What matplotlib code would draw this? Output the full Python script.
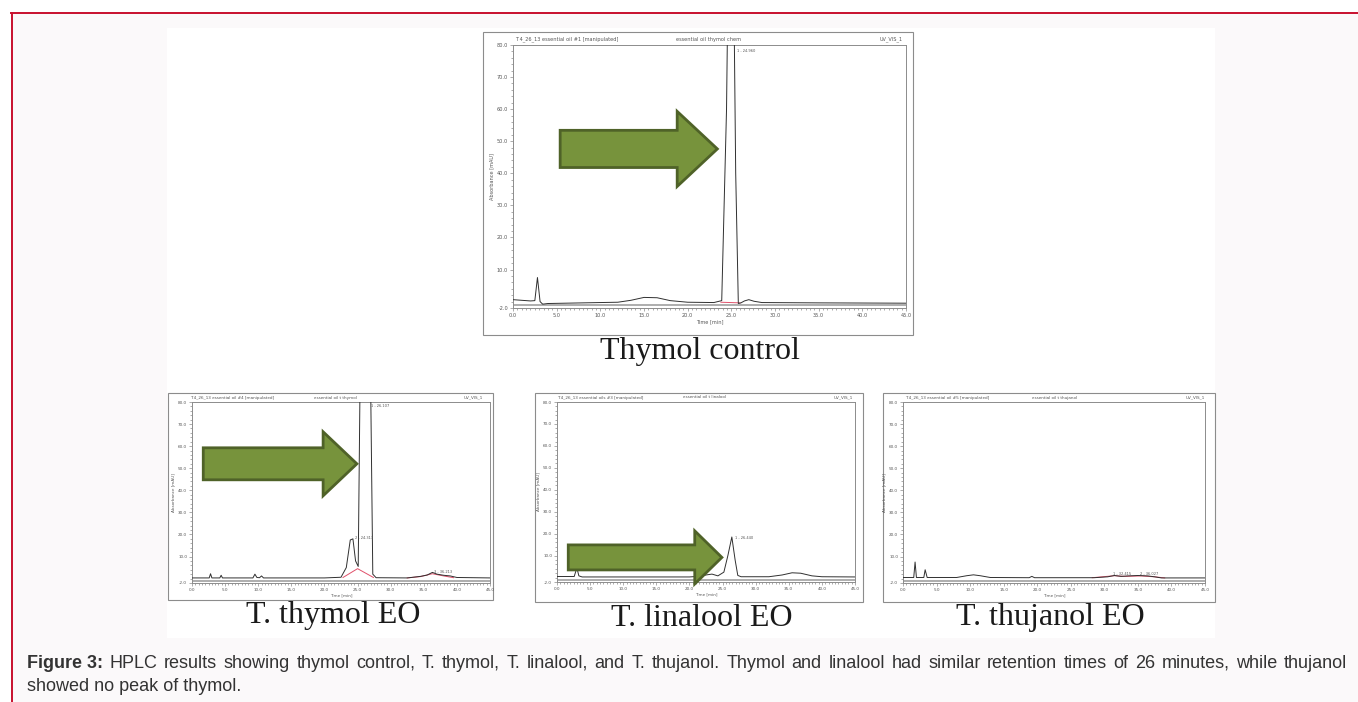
import matplotlib
matplotlib.use("Agg")
import matplotlib.pyplot as plt
from matplotlib.patches import Rectangle, FancyArrow
from matplotlib.lines import Line2D
from matplotlib.ticker import MultipleLocator, FixedLocator

W, H = 1358, 702

# retention time (min) vs absorbance (mAU)
ctrl_t = [0.0, 1.0, 2.0, 2.5, 2.8, 3.1, 3.4, 4.0, 8.0, 12.0, 13.5, 15.0, 16.5, 18.0, 20.0, 23.0, 23.9,
          24.45, 24.75, 25.0, 25.2, 25.5, 25.8, 26.1, 26.5, 27.0, 27.6, 28.5, 35.0, 45.0]
ctrl_y = [0.6, 0.4, 0.2, 0.3, 7.5, 0.0, -0.8, -0.6, -0.4, -0.2, 0.4, 1.3, 1.2, 0.3, -0.2, -0.3, 0.3,
          60.0, 130.0, 150.0, 120.0, 40.0, -0.6, -0.4, 0.2, 0.6, 0.1, -0.3, -0.4, -0.5]
ctrl_red_t = [23.8, 26.0]
ctrl_red_y = [-0.2, -0.4]

thy_t = [0.0, 2.6, 2.8, 3.0, 4.2, 4.4, 4.6, 9.2, 9.5, 9.8, 10.2, 10.5, 10.8, 20.0, 22.5, 23.3, 23.9,
         24.3, 24.7, 25.1, 25.4, 26.0, 26.6, 26.95, 27.3, 27.8, 32.5, 34.5, 35.5, 36.3, 37.0, 38.0,
         39.0, 40.0, 45.0]
thy_y = [0.3, 0.3, 2.2, 0.3, 0.3, 1.5, 0.3, 0.3, 2.0, 0.5, 0.4, 1.2, 0.3, 0.3, 0.6, 5.0, 17.5,
         18.0, 8.0, 5.5, 96.0, 99.0, 98.0, 95.0, 2.0, 0.4, 0.3, 1.0, 1.6, 2.8, 2.0, 1.5,
         1.2, 0.5, 0.3]
thy_red_t = [22.8, 25.0, 27.4, None, 32.5, 34.5, 36.3, 38.0, 39.5]
thy_red_y = [0.5, 4.5, 0.5, None, 0.3, 0.9, 2.2, 1.2, 0.4]

lin_t = [0.0, 2.6, 3.0, 3.3, 3.8, 20.0, 21.5, 22.5, 23.4, 24.3, 25.2, 25.8, 26.4, 26.9, 27.3, 27.8,
         32.0, 34.0, 35.5, 36.8, 38.5, 40.0, 45.0]
lin_y = [0.5, 0.5, 4.5, 0.8, 0.3, 0.3, 0.6, 1.2, 1.6, 0.8, 2.5, 10.0, 18.5, 8.0, 1.0, 0.4,
         0.4, 1.2, 2.2, 2.0, 0.8, 0.4, 0.3]

thj_t = [0.0, 1.6, 1.8, 2.0, 3.1, 3.3, 3.6, 8.0, 9.5, 10.5, 11.5, 13.0, 18.8, 19.2, 19.6, 28.5,
         30.5, 31.5, 32.5, 33.5, 35.0, 36.5, 37.5, 38.5, 45.0]
thj_y = [0.5, 0.5, 7.5, 0.5, 0.5, 4.0, 0.5, 0.5, 1.3, 1.7, 1.3, 0.5, 0.4, 1.0, 0.4, 0.4,
         0.8, 1.4, 1.0, 1.2, 1.4, 1.2, 0.8, 0.3, 0.3]
thj_red_t = [28.2, 31.5, 33.0, 35.5, 37.5, 39.0]
thj_red_y = [0.4, 1.3, 1.0, 1.2, 0.8, 0.3]

blank_t = [0.0, 45.0]
blank_y = [-1.1, -1.1]

x_ticks = [0, 5, 10, 15, 20, 25, 30, 35, 40, 45]
y_ticks = [-2, 10, 20, 30, 40, 50, 60, 70, 80]

panel_names = ["Thymol control", "T. thymol EO", "T. linalool EO", "T. thujanol EO"]
headers = [
    ("4_26_13 essential oil #1 [manipulated]", "essential oil thymol chem"),
    ("4_26_13 essential oil #4 [manipulated]", "essential oil t thymol"),
    ("4_26_13 essential oils #3 [manipulated]", "essential oil t linalool"),
    ("4_26_13 essential oil #5 [manipulated]", "essential oil t thujanol"),
]
peak_labels = [
    [(25.6, 78.0, "1 - 24.960")],
    [(27.1, 78.0, "1 - 26.107"), (24.6, 18.5, "2 - 24.313"), (36.6, 3.2, "3 - 36.213")],
    [(26.9, 18.0, "1 - 26.440")],
    [(31.3, 2.3, "1 - 32.415"), (35.3, 2.3, "2 - 36.027")],
]
caption_bold = "Figure 3:"
caption_1 = ("HPLC results showing thymol control, T. thymol, T. linalool, and T. thujanol. "
             "Thymol and linalool had similar retention times of 26 minutes, while thujanol")
caption_2 = "showed no peak of thymol."

GREEN = "#77933c"
GREEN_EDGE = "#4f6228"
GRID_GRAY = "#8c8c8c"
CAP_FS = 13


def fx(px):
    return px / W


def fy(py):
    return 1 - py / H


def add_box(fig, l, t, r, b, **kw):
    fig.add_artist(Rectangle((fx(l), fy(b)), fx(r - l), (b - t) / H,
                             transform=fig.transFigure, **kw))


def chrom_axes(fig, frame, ax_box, small):
    l, t, r, b = frame
    add_box(fig, l, t, r, b, facecolor="white", edgecolor=GRID_GRAY, lw=0.8, zorder=-5)
    al, at, ar, ab = ax_box
    ax = fig.add_axes([fx(al), fy(ab), fx(ar - al), (ab - at) / H])
    ax.set_xlim(0, 45)
    ax.set_ylim(-2, 80)
    ax.xaxis.set_major_locator(FixedLocator(x_ticks))
    ax.yaxis.set_major_locator(FixedLocator(y_ticks))
    ax.xaxis.set_minor_locator(MultipleLocator(0.5))
    ax.yaxis.set_minor_locator(MultipleLocator(2))
    ax.set_xticklabels([f"{v:.1f}" for v in x_ticks])
    ax.set_yticklabels([f"{v:.1f}" for v in y_ticks])
    fs = 3.0 if small else 3.6
    ax.tick_params(which="both", direction="out", color=GRID_GRAY, width=0.5,
                   labelsize=fs, labelcolor="#555555", pad=1)
    ax.tick_params(which="major", length=2.5)
    ax.tick_params(which="minor", length=1.5)
    for s in ax.spines.values():
        s.set_color(GRID_GRAY)
        s.set_linewidth(0.7)
    ax.set_xlabel("Time [min]", fontsize=fs, color="#555555", labelpad=1)
    ax.set_ylabel("Absorbance [mAU]", fontsize=fs, color="#555555", labelpad=2)
    ax.plot(blank_t, blank_y, color="#a0a0a0", lw=1.2)
    return ax


def header(fig, frame, texts, small):
    l, t, r, b = frame
    fs = 3.0 if small else 3.6
    y = fy(t + 4.5 if small else t + 7)
    fig.text(fx(l + (22 if small else 32)), y, "T " + texts[0], fontsize=fs, color="#555555", va="center")
    fig.text(fx(l + (r - l) * 0.45), y, texts[1], fontsize=fs, color="#555555", va="center")
    fig.text(fx(r - 10), y, "UV_VIS_1", fontsize=fs, color="#555555", va="center", ha="right")


def arrow(ax, x0, x1, yc, body, head, head_len):
    ax.add_patch(FancyArrow(x0, yc, x1 - x0, 0, width=body, head_width=head,
                            head_length=head_len, length_includes_head=True,
                            facecolor=GREEN, edgecolor=GREEN_EDGE, lw=2.0,
                            clip_on=False, zorder=5))


fig = plt.figure(figsize=(W / 100, H / 100), dpi=100, facecolor="white")

# page background, red frame and white picture area
add_box(fig, 11, 13, W, H, facecolor="#fbf9fa", edgecolor="none", zorder=-20)
add_box(fig, 167, 28, 1215, 638, facecolor="white", edgecolor="none", zorder=-10)
fig.add_artist(Line2D([fx(11), 1], [fy(12.5), fy(12.5)], color="#c8102e", lw=1.4,
                      transform=fig.transFigure))
fig.add_artist(Line2D([fx(11.5), fx(11.5)], [0, fy(12.5)], color="#c8102e", lw=1.4,
                      transform=fig.transFigure))

frames = [(483, 32, 913, 335), (168, 393, 493, 600), (535, 393, 863, 602), (883, 393, 1215, 602)]
boxes = [(513, 45, 906, 308), (192, 402, 490, 583), (557, 402, 855, 582), (903, 402, 1205, 583)]
name_pos = [(700, 352), (333, 616), (702, 618), (1050, 618)]
traces = [(ctrl_t, ctrl_y), (thy_t, thy_y), (lin_t, lin_y), (thj_t, thj_y)]
reds = [(ctrl_red_t, ctrl_red_y), (thy_red_t, thy_red_y), None, (thj_red_t, thj_red_y)]

axes = []
for i in range(4):
    small = i > 0
    ax = chrom_axes(fig, frames[i], boxes[i], small)
    header(fig, frames[i], headers[i], small)
    t, y = traces[i]
    ax.plot(t, y, color="#303030", lw=0.7, zorder=3)
    if reds[i] is not None:
        ax.plot(reds[i][0], reds[i][1], color="#e0506a", lw=0.7, zorder=2)
    for px, py, s in peak_labels[i]:
        ax.text(px, py, s, fontsize=2.6, color="#555555", va="center")
    fig.text(fx(name_pos[i][0]), fy(name_pos[i][1]), panel_names[i],
             family="Liberation Serif", fontsize=23, color="#1a1a1a",
             ha="center", va="center")
    axes.append(ax)

arrow(axes[0], 5.4, 23.4, 47.6, 11.6, 23.4, 4.6)
arrow(axes[1], 1.7, 24.9, 52.0, 14.5, 29.0, 5.1)
arrow(axes[2], 1.7, 24.9, 9.2, 11.4, 24.2, 4.1)

# figure caption: first line is justified to the right margin, like the web page
renderer = fig.canvas.get_renderer()
cap_kw = dict(family="Liberation Sans", fontsize=CAP_FS, color="#333333", va="baseline")
words = [(caption_bold, "bold")] + [(w, "normal") for w in caption_1.split()]
pieces = [fig.text(0, fy(668), w, weight=wt, **cap_kw) for w, wt in words]
widths = [p.get_window_extent(renderer).width for p in pieces]
left, right = 27, 1347
gap = (right - left - sum(widths)) / (len(pieces) - 1)
x = left
for p, w in zip(pieces, widths):
    p.set_x(fx(x))
    x += w + gap
fig.text(fx(left), fy(691), caption_2, **cap_kw)

fig.savefig("out.png", dpi=100, facecolor=fig.get_facecolor())
plt.close(fig)
